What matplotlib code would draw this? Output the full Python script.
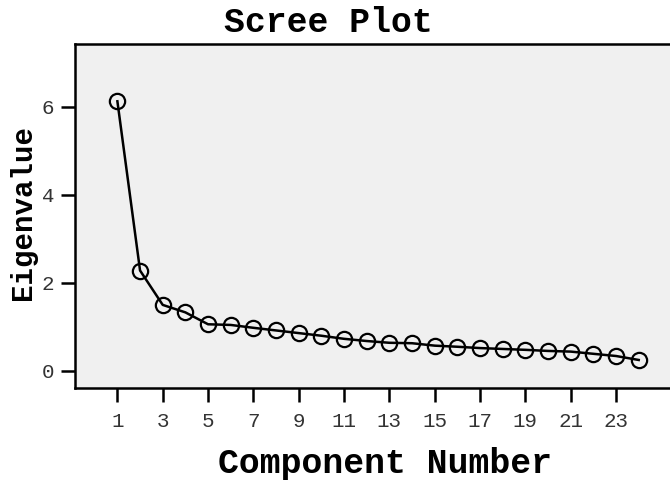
import matplotlib
matplotlib.use("Agg")
import matplotlib.pyplot as plt

components = list(range(1, 25))
eigenvalues = [6.12, 2.28, 1.50, 1.33, 1.06, 1.045, 0.98, 0.92, 0.86, 0.80,
               0.73, 0.68, 0.64, 0.63, 0.575, 0.55, 0.52, 0.50, 0.48, 0.455,
               0.44, 0.39, 0.34, 0.25]
xticks = list(range(1, 24, 2))
yticks = [0, 2, 4, 6]

plt.rcParams['font.family'] = ['Liberation Mono', 'DejaVu Sans Mono']

fig = plt.figure(figsize=(6.7, 4.82), dpi=100)
ax = fig.add_axes([75/670, 1-388/482, 1-75/670, (388-44)/482])
ax.set_facecolor('#f0f0f0')

ax.plot(components, eigenvalues, color='black', linewidth=1.8,
        marker='o', markersize=11, markerfacecolor='none',
        markeredgecolor='black', markeredgewidth=1.6)

ax.set_xlim(-0.87, 25.38)
ax.set_ylim(-0.386, 7.42)
ax.set_xticks(xticks)
ax.set_yticks(yticks)
ax.tick_params(axis='both', direction='out', length=10, width=1.8,
               labelsize=15, pad=5, color='black', labelcolor='#333333')
ax.tick_params(axis='x', pad=7)
for s in ['left', 'bottom', 'top']:
    ax.spines[s].set_linewidth(1.8)
ax.spines['right'].set_visible(False)

fig.text(328/670, 1-22/482, 'Scree Plot', ha='center', va='center',
         fontsize=25, fontweight='bold')
fig.text(385/670, 1-463/482, 'Component Number', ha='center', va='center',
         fontsize=25, fontweight='bold')
fig.text(23/670, 1-213/482, 'Eigenvalue', ha='center', va='center',
         fontsize=21, fontweight='bold', rotation=90)

fig.savefig('out.png', dpi=100)
